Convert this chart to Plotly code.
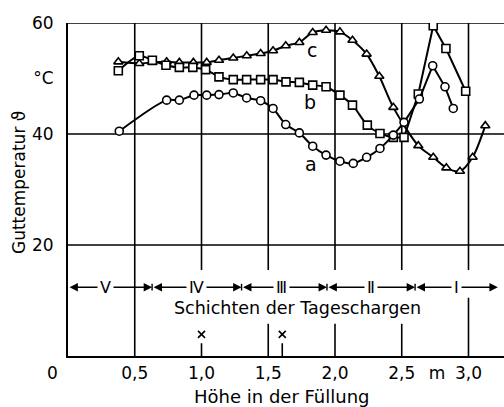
import plotly.graph_objects as go

# ---- data ----
a_x = [0.384, 0.739, 0.834, 0.944, 1.039, 1.131, 1.238, 1.338, 1.443, 1.536, 1.631, 1.733,
       1.833, 1.933, 2.037, 2.137, 2.237, 2.337, 2.437, 2.517, 2.632, 2.732, 2.824, 2.886]
a_y = [40.5, 46.1, 46.1, 47.0, 47.0, 47.1, 47.4, 46.5, 46.0, 44.6, 41.7, 40.2,
       37.8, 36.2, 35.1, 34.7, 35.8, 37.4, 39.8, 42.1, 46.3, 52.3, 48.5, 44.6]
a_split = 18   # smooth part ends / straight part starts at this index

b_x = [0.377, 0.534, 0.632, 0.734, 0.834, 0.935, 1.031, 1.131, 1.238, 1.338, 1.443, 1.536,
       1.633, 1.733, 1.833, 1.933, 2.037, 2.131, 2.242, 2.337, 2.437, 2.517, 2.624, 2.736,
       2.831, 2.979]
b_y = [51.4, 54.1, 53.3, 52.4, 52.0, 52.0, 51.6, 50.3, 49.8, 49.8, 49.8, 49.8,
       49.4, 49.3, 48.8, 48.5, 47.0, 45.2, 41.6, 40.1, 39.4, 39.4, 47.2, 59.5,
       55.4, 47.7]
b_split = 21

c_x = [0.377, 0.534, 0.632, 0.739, 0.834, 0.939, 1.039, 1.131, 1.238, 1.339, 1.443, 1.536,
       1.631, 1.733, 1.833, 1.933, 2.037, 2.131, 2.237, 2.332, 2.437, 2.624, 2.736, 2.834,
       2.936, 3.031, 3.126]
c_y = [53.0, 52.7, 52.9, 53.0, 52.9, 52.9, 52.9, 53.3, 53.7, 54.1, 54.5, 55.0,
       55.9, 56.5, 58.3, 58.7, 58.4, 56.9, 54.4, 50.4, 44.8, 37.9, 35.8, 33.9,
       33.3, 35.8, 41.5]

curve_labels = ["a", "b", "c"]
curve_label_x = [1.82, 1.81, 1.83]
curve_label_y = [34.6, 45.8, 55.1]

x_ticks = [0.5, 1.0, 1.5, 2.0, 2.5, 2.764, 3.0]
x_ticktext = ["0,5", "1,0", "1,5", "2,0", "2,5", "m", "3,0"]
y_ticks = [20, 40, 50, 60]
y_ticktext = ["20", "40", "°C", "60"]

layer_names = ["Ⅴ", "Ⅳ", "Ⅲ", "Ⅱ", "Ⅰ"]
layer_bounds = [0.0, 0.63, 1.30, 1.94, 2.60, 3.22]
layer_label_x = [0.28, 0.96, 1.60, 2.27, 2.91]
layer_y = 12.4

cross_x = [1.0, 1.605]
cross_y = [3.9, 3.9]

X_MAX = 3.266
FONT = "DejaVu Sans"
PLOT_L, PLOT_W, PLOT_B, PLOT_H = 68, 436, 356, 333

def px_to_paper(px, py):
    return (px - PLOT_L) / PLOT_W, (PLOT_B - py) / PLOT_H

fig = go.Figure()

def add_curve(xs, ys, symbol, split):
    if split is None:
        fig.add_trace(go.Scatter(x=xs, y=ys, mode="lines",
                                 line=dict(color="black", width=2, shape="spline", smoothing=0.8),
                                 showlegend=False, hoverinfo="skip"))
    else:
        fig.add_trace(go.Scatter(x=xs[:split + 1], y=ys[:split + 1], mode="lines",
                                 line=dict(color="black", width=2, shape="spline", smoothing=0.8),
                                 showlegend=False, hoverinfo="skip"))
        fig.add_trace(go.Scatter(x=xs[split:], y=ys[split:], mode="lines",
                                 line=dict(color="black", width=2),
                                 showlegend=False, hoverinfo="skip"))
    fig.add_trace(go.Scatter(x=xs, y=ys, mode="markers",
                             marker=dict(symbol=symbol, size=8, color="white",
                                         line=dict(color="black", width=1.6)),
                             showlegend=False))

add_curve(c_x, c_y, "triangle-up", None)
add_curve(b_x, b_y, "square", b_split)
add_curve(a_x, a_y, "circle", a_split)

fig.add_trace(go.Scatter(x=cross_x, y=cross_y, mode="markers",
                         marker=dict(symbol="x-thin", size=7, line=dict(color="black", width=1.6)),
                         showlegend=False))

shapes = []
def vline(x, y0, y1, w=1.6):
    shapes.append(dict(type="line", xref="x", yref="y", x0=x, x1=x, y0=y0, y1=y1,
                       line=dict(color="black", width=w), layer="below"))
def hline(y, w=1.6):
    shapes.append(dict(type="line", xref="x", yref="y", x0=0, x1=X_MAX, y0=y, y1=y,
                       line=dict(color="black", width=w), layer="below"))

for y in [20, 40, 60]:
    hline(y)
vline(0.5, 0, 60)
for x in [1.0, 1.5, 2.0, 2.5, 3.0]:
    vline(x, 15.5, 60)
vline(1.0, 0, 2.3)
vline(1.605, 0, 2.3)
for x in [1.5, 2.0, 2.5]:
    vline(x, 0, 5.8)
vline(3.0, 0, 10.5)
for bx in layer_bounds[1:-1]:
    vline(bx, layer_y - 0.6, layer_y + 0.6, 1.4)
fig.update_layout(shapes=shapes)

ann = []
for i in range(len(layer_names)):
    ann.append(dict(x=layer_bounds[i + 1], y=layer_y, ax=layer_bounds[i], ay=layer_y,
                    xref="x", yref="y", axref="x", ayref="y", text="", showarrow=True,
                    arrowhead=2, arrowside="end+start", arrowsize=1.2, arrowwidth=1.4,
                    arrowcolor="black"))
for name, lx in zip(layer_names, layer_label_x):
    ann.append(dict(x=lx, y=layer_y, xref="x", yref="y", text=name, showarrow=False,
                    bgcolor="white", borderpad=2, font=dict(family=FONT, size=16, color="black")))
ann.append(dict(x=1.72, y=8.6, xref="x", yref="y", text="Schichten der Tageschargen",
                showarrow=False, font=dict(family=FONT, size=17.5, color="black")))
for t, lx, ly in zip(curve_labels, curve_label_x, curve_label_y):
    ann.append(dict(x=lx, y=ly, xref="x", yref="y", text=t, showarrow=False,
                    font=dict(family=FONT, size=19, color="black")))

zx, zy = px_to_paper(52, 373)
ann.append(dict(x=zx, y=zy, xref="paper", yref="paper", xanchor="center", yanchor="middle",
                text="0", showarrow=False, font=dict(family=FONT, size=17, color="black")))
hx, hy = px_to_paper(282, 396)
ann.append(dict(x=hx, y=hy, xref="paper", yref="paper", xanchor="center", yanchor="middle",
                text="Höhe in der Füllung", showarrow=False,
                font=dict(family=FONT, size=18, color="black")))
gx, gy = px_to_paper(19, 183)
ann.append(dict(x=gx, y=gy, xref="paper", yref="paper", xanchor="center", yanchor="middle",
                text="Guttemperatur ϑ", textangle=-90, showarrow=False,
                font=dict(family=FONT, size=17, color="black")))
fig.update_layout(annotations=ann)

fig.update_xaxes(range=[0, X_MAX], showgrid=False, zeroline=False, showline=True,
                 linecolor="black", linewidth=2, tickvals=x_ticks, ticktext=x_ticktext,
                 ticks="", ticklabelstandoff=1,
                 tickfont=dict(family=FONT, size=17, color="black"))
fig.update_yaxes(range=[0, 60], showgrid=False, zeroline=False, showline=True,
                 linecolor="black", linewidth=2, tickvals=y_ticks, ticktext=y_ticktext,
                 ticks="", ticklabelstandoff=9,
                 tickfont=dict(family=FONT, size=17, color="black"))

fig.update_layout(width=504, height=407, margin=dict(l=68, r=0, t=23, b=51),
                  plot_bgcolor="white", paper_bgcolor="white", showlegend=False)

fig.write_html("out.html")
